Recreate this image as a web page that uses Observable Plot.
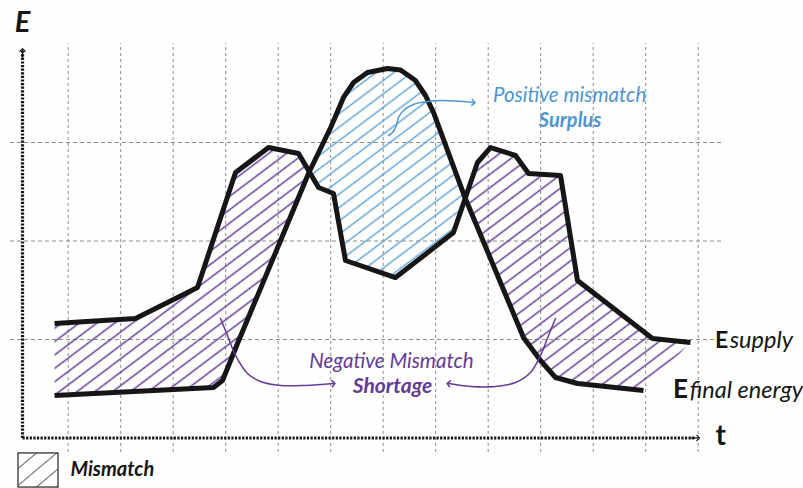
<!DOCTYPE html>
<html><head><meta charset="utf-8">
<script src="https://cdn.jsdelivr.net/npm/d3@7"></script>
<script src="https://cdn.jsdelivr.net/npm/@observablehq/plot@0.6"></script>
<style>html,body{margin:0;padding:0;background:#fff;} svg{display:block}</style>
</head><body><div id="chart"></div>
<script>
// ---- data (grid units: t on x, E on y) ----
const gridX = [1,2,3,4,5,6,7,8,9,10,11,12,13];
const gridY = [1,2,3];
const supply = [[0.74,1.162],[2.282,1.213],[3.463,1.528],[4.187,2.695],[4.815,2.949],[5.387,2.888],[5.768,2.543],[6.053,2.482],[6.282,1.802],[7.234,1.629],[8.339,2.086],[8.796,2.797],[9.044,2.949],[9.520,2.868],[9.768,2.685],[10.377,2.665],[10.701,1.599],[12.130,1.010],[12.853,0.970]];
const finalEnergy = [[0.74,0.431],[3.768,0.513],[3.939,0.584],[4.225,0.959],[4.910,1.832],[5.577,2.685],[6.000,3.152],[6.244,3.457],[6.434,3.609],[6.701,3.711],[7.082,3.751],[7.330,3.736],[7.615,3.629],[7.806,3.477],[7.958,3.305],[8.549,2.452],[9.672,1.020],[9.996,0.787],[10.282,0.614],[10.701,0.553],[11.958,0.482]];
const surplusArrow = [[7.101,3.071],[7.177,3.102],[7.253,3.173],[7.291,3.254],[7.387,3.325],[7.577,3.386],[7.844,3.416],[8.149,3.426],[8.720,3.406]];
const shortageArrowLeft = [[3.901,1.213],[4.034,1.041],[4.187,0.838],[4.415,0.655],[4.663,0.574],[5.044,0.533],[5.520,0.533],[6.053,0.553]];
const shortageArrowRight = [[10.282,1.213],[10.149,1.041],[9.996,0.838],[9.806,0.665],[9.520,0.563],[9.139,0.523],[8.663,0.523],[8.244,0.553]];
const labelPositive = "Positive mismatch";
const labelSurplus = "Surplus";
const labelNegative = "Negative Mismatch";
const labelShortage = "Shortage";
const labelLegend = "Mismatch";

// ---- split the area between the two curves at their crossings ----
function crossings(a, b) {
  const res = [];
  for (let i = 0; i < a.length - 1; i++) for (let j = 0; j < b.length - 1; j++) {
    const p = a[i], p2 = a[i+1], q = b[j], q2 = b[j+1];
    const r = [p2[0]-p[0], p2[1]-p[1]], s = [q2[0]-q[0], q2[1]-q[1]];
    const den = r[0]*s[1] - r[1]*s[0];
    if (den === 0) continue;
    const t = ((q[0]-p[0])*s[1] - (q[1]-p[1])*s[0]) / den;
    const u = ((q[0]-p[0])*r[1] - (q[1]-p[1])*r[0]) / den;
    if (t >= 0 && t <= 1 && u >= 0 && u <= 1) res.push({i, j, t, pt: [p[0]+t*r[0], p[1]+t*r[1]]});
  }
  return res.sort((m, n) => (m.i + m.t) - (n.i + n.t));
}
const cx = crossings(supply, finalEnergy);
const c0 = cx[0], c1 = cx[1];
const lobeLeft = [...supply.slice(0, c0.i+1), c0.pt, ...finalEnergy.slice(0, c0.j+1).reverse()];
const lobeMid = [c0.pt, ...supply.slice(c0.i+1, c1.i+1), c1.pt, ...finalEnergy.slice(c0.j+1, c1.j+1).reverse()];
const lobeRight = [c1.pt, ...supply.slice(c1.i+1), ...finalEnergy.slice(c1.j+1).reverse()];

const purple = "#643c96", blue = "#4f95cf", ink = "#161616", gridC = "#8c8c8c";
const F = "Lato, 'Open Sans', sans-serif";

const txt = (s, o) => Plot.text([s], {text: d => d, fontFamily: F, lineAnchor: "bottom", ...o});

const svg = Plot.plot({
  width: 803, height: 488, margin: 0,
  x: {domain: [1, 13], range: [67.7, 697.7], axis: null},
  y: {domain: [0, 4], range: [437.5, 43.5], axis: null},
  style: {background: "#fefefd", fontFamily: F},
  marks: [
    // grid
    Plot.ruleX(gridX, {y1: -0.147, y2: 4.005, stroke: gridC, strokeWidth: 1, strokeDasharray: "3,3"}),
    Plot.ruleY(gridY, {x1: -0.1, x2: 13.48, stroke: gridC, strokeWidth: 1.2, strokeDasharray: "4,3"}),
    // hatched mismatch areas
    Plot.line(lobeLeft, {x: "0", y: "1", fill: "url(#hatchPurple)", stroke: "none"}),
    Plot.line(lobeRight, {x: "0", y: "1", fill: "url(#hatchPurple)", stroke: "none"}),
    Plot.line(lobeMid, {x: "0", y: "1", fill: "url(#hatchBlue)", stroke: "none"}),
    // axes (dotted)
    Plot.link([0], {x1: 0.13, y1: 0, x2: 0.13, y2: 3.93, stroke: ink, strokeWidth: 3.2, strokeDasharray: "2.2,1.4"}),
    Plot.link([0], {x1: 0.13, y1: 3.86, x2: 0.13, y2: 3.94, stroke: ink, strokeWidth: 1.3, markerEnd: "arrow"}),
    Plot.link([0], {x1: 0.13, y1: 0, x2: 12.93, y2: 0, stroke: ink, strokeWidth: 3.2, strokeDasharray: "2.2,1.4"}),
    Plot.link([0], {x1: 12.85, y1: 0, x2: 13.0, y2: 0, stroke: ink, strokeWidth: 1.3, markerEnd: "arrow"}),
    // curves
    Plot.line(supply, {x: "0", y: "1", stroke: ink, strokeWidth: 5, strokeLinejoin: "round", strokeLinecap: "butt"}),
    Plot.line(finalEnergy, {x: "0", y: "1", stroke: ink, strokeWidth: 5, strokeLinejoin: "round", strokeLinecap: "butt"}),
    // annotation arrows
    Plot.line(surplusArrow, {x: "0", y: "1", stroke: blue, strokeWidth: 1.5, curve: "catmull-rom", markerEnd: "arrow"}),
    Plot.line(shortageArrowLeft, {x: "0", y: "1", stroke: purple, strokeWidth: 1.5, curve: "catmull-rom", markerEnd: "arrow"}),
    Plot.line(shortageArrowRight, {x: "0", y: "1", stroke: purple, strokeWidth: 1.5, curve: "catmull-rom", markerEnd: "arrow"}),
    // texts
    txt("E", {x: -0.02, y: 4.117, textAnchor: "start", fontSize: 29, fontWeight: "bold", fontStyle: "italic", fill: ink}),
    txt("t", {x: 13.33, y: -0.076, textAnchor: "start", fontSize: 28, fontWeight: "bold", fill: ink}),
    txt(labelPositive, {x: 10.55, y: 3.41, textAnchor: "middle", fontSize: 20.5, fontStyle: "italic", fill: blue}),
    txt(labelSurplus, {x: 10.56, y: 3.155, textAnchor: "middle", fontSize: 20, fontWeight: "bold", fontStyle: "italic", fill: blue}),
    txt(labelNegative, {x: 7.158, y: 0.706, textAnchor: "middle", fontSize: 20.5, fontStyle: "italic", fill: purple}),
    txt(labelShortage, {x: 7.177, y: 0.455, textAnchor: "middle", fontSize: 21, fontWeight: "bold", fontStyle: "italic", fill: purple}),
    txt("E", {x: 13.32, y: 0.909, textAnchor: "start", fontSize: 23, fontWeight: "bold", fill: ink}),
    txt("supply", {x: 13.6, y: 0.909, textAnchor: "start", fontSize: 23.5, fontStyle: "italic", fill: ink}),
    txt("E", {x: 12.52, y: 0.411, textAnchor: "start", fontSize: 26, fontWeight: "bold", fill: ink}),
    txt("final energy", {x: 12.84, y: 0.411, textAnchor: "start", fontSize: 23.5, fontStyle: "italic", fill: ink}),
    // legend
    Plot.rect([0], {x1: 0.053, x2: 0.815, y1: -0.157, y2: -0.503, fill: "url(#hatchGray)", stroke: "#333", strokeWidth: 1.3}),
    txt(labelLegend, {x: 1.044, y: -0.381, textAnchor: "start", fontSize: 20, fontWeight: "bold", fontStyle: "italic", fill: ink})
  ]
});

// hatch patterns
const defs = d3.select(svg).insert("defs", ":first-child");
function hatch(id, color, gap, angle, sw) {
  const p = defs.append("pattern").attr("id", id).attr("patternUnits", "userSpaceOnUse")
    .attr("width", 20).attr("height", gap).attr("patternTransform", `rotate(${-angle})`);
  p.append("line").attr("x1", 0).attr("x2", 20).attr("y1", gap/2).attr("y2", gap/2)
    .attr("stroke", color).attr("stroke-width", sw);
}
hatch("hatchPurple", purple, 10.7, 37, 1.5);
hatch("hatchBlue", "#5aa0d6", 10.7, 37, 1.4);
hatch("hatchGray", "#555", 13, 40, 0.9);

document.getElementById("chart").appendChild(svg);
</script>
</body></html>
